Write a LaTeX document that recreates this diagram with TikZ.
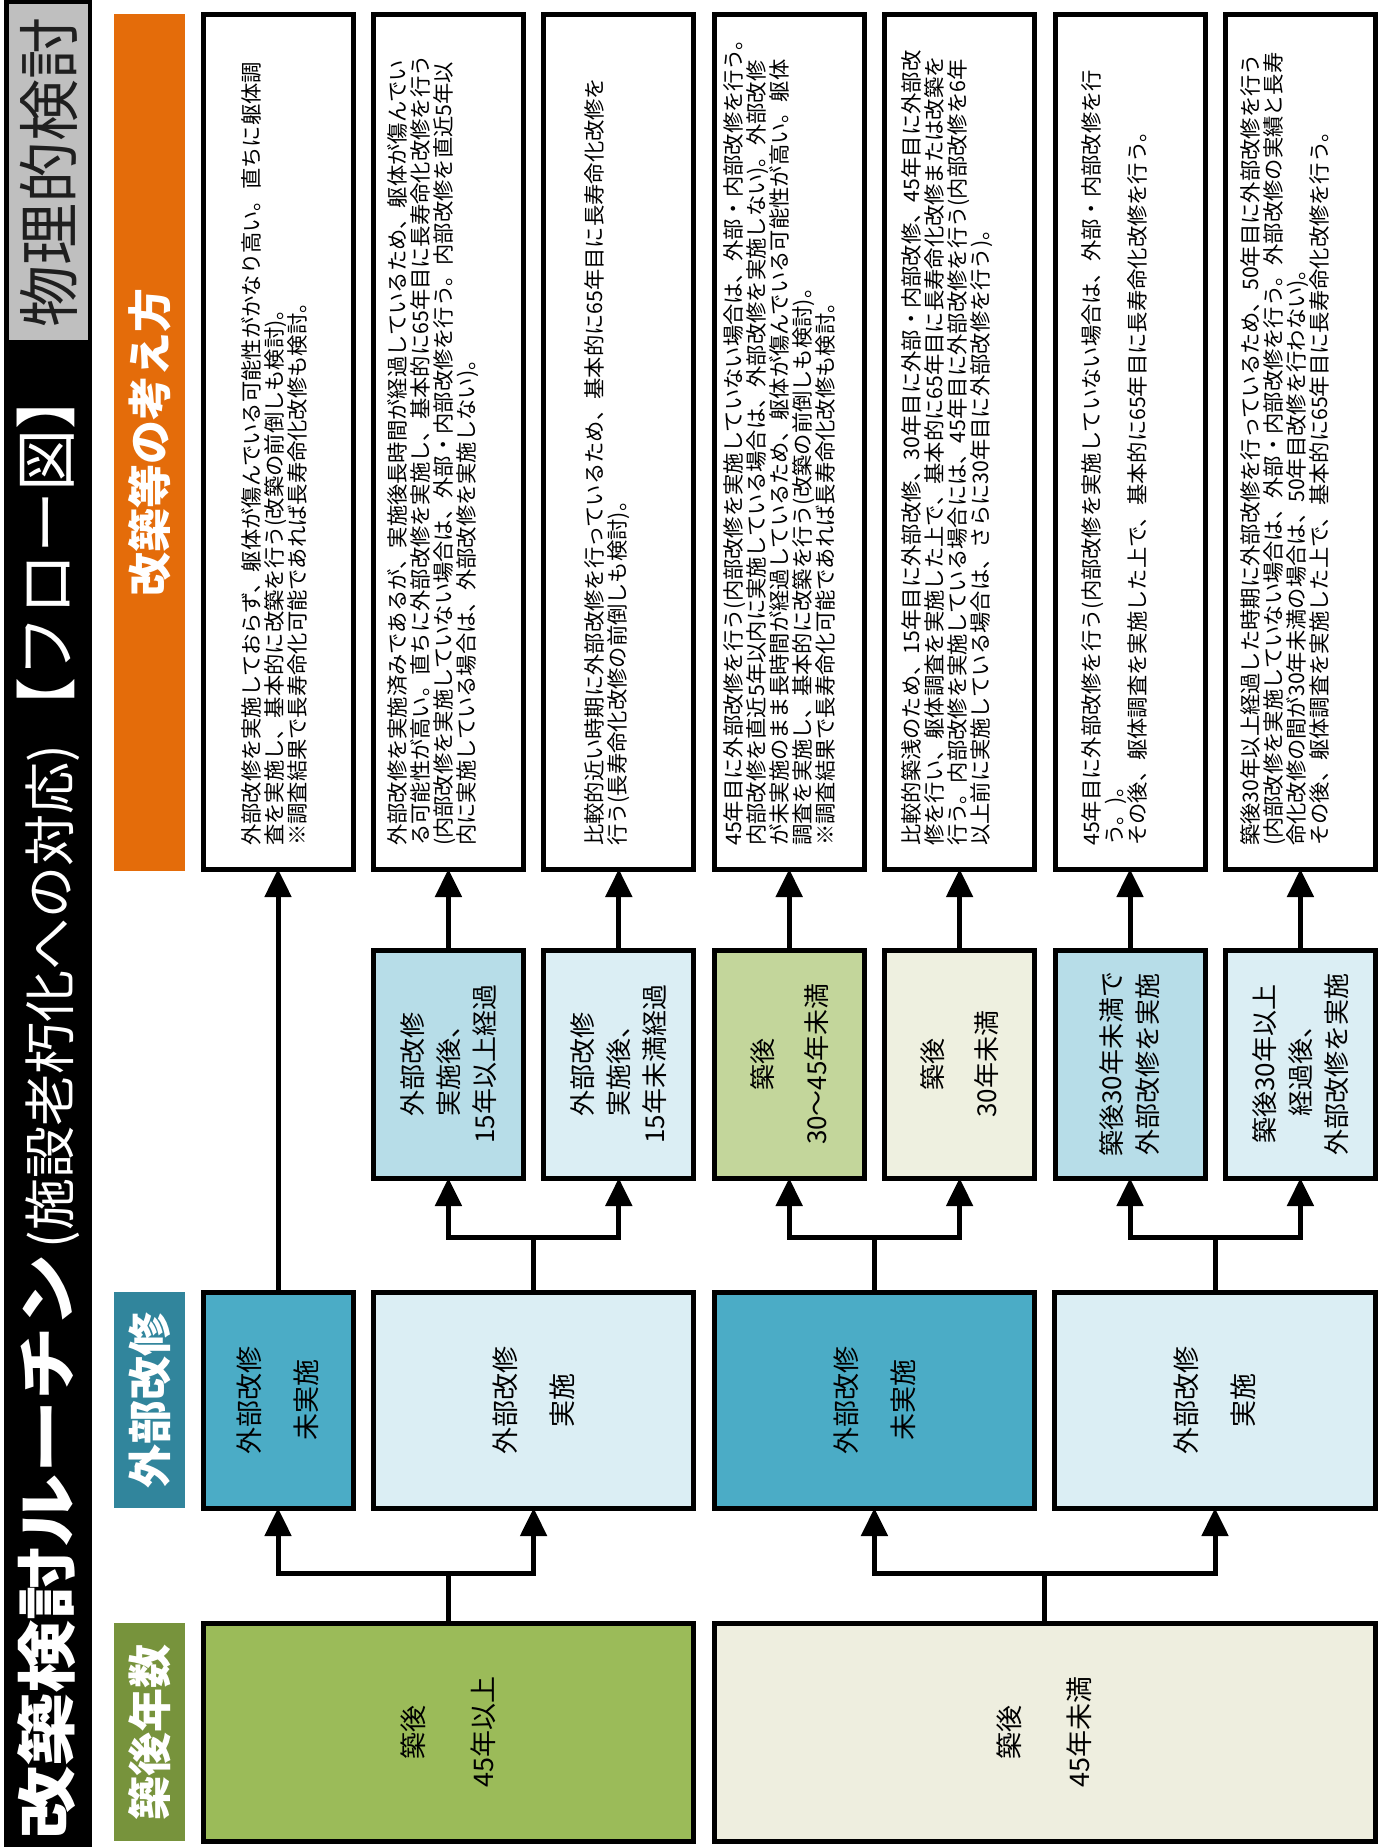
\documentclass[tikz,border=0pt]{standalone}
\usepackage{fontspec}
\usepackage{graphicx}
\setmainfont{Noto Sans CJK JP}
\usetikzlibrary{arrows.meta}
\definecolor{oliveH}{HTML}{77933C}
\definecolor{blueH}{HTML}{31859C}
\definecolor{orangeH}{HTML}{E46C0A}
\definecolor{grayT}{HTML}{BFBFBF}
\definecolor{greenA}{HTML}{9BBB59}
\definecolor{beigeA}{HTML}{EEEEDF}
\definecolor{blueA}{HTML}{4BACC6}
\definecolor{blueL}{HTML}{DBEEF4}
\definecolor{blueM}{HTML}{B7DDE8}
\definecolor{greenB}{HTML}{C3D69B}
\definecolor{beigeB}{HTML}{EEF0E0}
\tikzset{
  bx/.style={draw=black, line width=5pt, rotate=90, inner sep=0pt, outer sep=0pt, align=center},
  hdr/.style={rotate=90, inner sep=0pt, outer sep=0pt, text=white, align=center, font=\bfseries\fontsize{44}{50}\selectfont},
  ln/.style={line width=5pt},
  arr/.style={line width=5pt, -{Triangle[length=28pt,width=26pt]}},
  arrtwo/.style={line width=5pt, line join=miter, {Triangle[length=28pt,width=26pt]}-{Triangle[length=28pt,width=26pt]}},
  body/.style={rotate=90, inner sep=0pt, align=left, anchor=west, font=\fontsize{21.3}{23}\selectfont},
  cthree/.style={bx, minimum width=228pt, minimum height=150pt, font=\fontsize{26}{36}\selectfont},
  ctwo/.style={bx, minimum width=216pt, font=\fontsize{27}{57}\selectfont},
  cone/.style={bx, minimum width=218pt, font=\fontsize{27}{70}\selectfont},
  tbox/.style={bx, fill=white, minimum width=855pt, minimum height=150pt},
}
\begin{document}
\begin{tikzpicture}[x=1pt,y=-1pt]
\useasboundingbox (0,0) rectangle (1390,1847);
\fill[white] (0,0) rectangle (1390,1847);
% title bar
\fill[black] (4,0) rectangle (92,1847);
\fill[grayT] (9,4) rectangle (88,340);
\node[rotate=90, inner sep=0pt, text=black!88, font=\fontsize{62}{66}\selectfont] (phys) at (48.5,172) {物理的検討};
\node[rotate=90, inner sep=0pt, anchor=west, text=white] (title) at (48,1840) {\scalebox{1.22}[1]{\bfseries\fontsize{60}{64}\selectfont 改築検討ルーチン}\hspace{6pt}{\fontsize{52}{60}\selectfont (施設老朽化への対応)}\hspace{6pt}{\fontsize{62}{66}\selectfont 【フロー図】}};
% headers
\node[hdr, fill=orangeH, minimum width=857pt, minimum height=71pt] (h3) at (149.5,442.5) {改築等の考え方};
\node[hdr, fill=blueH, minimum width=216pt, minimum height=71pt] (h2) at (149.5,1400) {外部改修};
\node[hdr, fill=oliveH, minimum width=218pt, minimum height=71pt] (h1) at (149.5,1732) {築後年数};
% column 1
\node[cone, fill=greenA, minimum height=490.8pt] (g1) at (448.4,1732) {築後\\45年以上};
\node[cone, fill=beigeA, minimum height=660.8pt] (g2) at (1044.6,1732) {築後\\45年未満};
% column 2
\node[ctwo, fill=blueA, minimum height=150pt] (e1) at (278,1400) {外部改修\\未実施};
\node[ctwo, fill=blueL, minimum height=320.4pt] (e2) at (533.6,1400) {外部改修\\実施};
\node[ctwo, fill=blueA, minimum height=320.4pt] (e3) at (874.4,1400) {外部改修\\未実施};
\node[ctwo, fill=blueL, minimum height=320.4pt] (e4) at (1215,1400) {外部改修\\実施};
% column 3
\node[cthree, fill=blueM] (k2) at (448.4,1064) {外部改修\\実施後、\\15年以上経過};
\node[cthree, fill=blueL] (k3) at (618.8,1064) {外部改修\\実施後、\\15年未満経過};
\node[cthree, fill=greenB, font=\fontsize{26}{54}\selectfont] (k4) at (789.2,1064) {築後\\30～45年未満};
\node[cthree, fill=beigeB, font=\fontsize{26}{54}\selectfont] (k5) at (959.6,1064) {築後\\30年未満};
\node[cthree, fill=blueM] (k6) at (1130,1064) {築後30年未満で\\外部改修を実施};
\node[cthree, fill=blueL] (k7) at (1300.4,1064) {築後30年以上\\経過後、\\外部改修を実施};
% column 4 frames
\node[tbox] (t1) at (278,441.5) {};
\node[tbox] (t2) at (448.4,441.5) {};
\node[tbox] (t3) at (618.8,441.5) {};
\node[tbox] (t4) at (789.2,441.5) {};
\node[tbox] (t5) at (959.6,441.5) {};
\node[tbox] (t6) at (1130,441.5) {};
\node[tbox] (t7) at (1300.4,441.5) {};
% column 4 texts
\node[body] (x1) at (274,846) {外部改修を実施しておらず、躯体が傷んでいる可能性がかなり高い。直ちに躯体調\\査を実施し、基本的に改築を行う(改築の前倒しも検討)。\\※調査結果で長寿命化可能であれば長寿命化改修も検討。};
\node[body] (x2) at (433.4,846) {外部改修を実施済みであるが、実施後長時間が経過しているため、躯体が傷んでい\\る可能性が高い。直ちに外部改修を実施し、基本的に65年目に長寿命化改修を行う\\(内部改修を実施していない場合は、外部・内部改修を行う。内部改修を直近5年以\\内に実施している場合は、外部改修を実施しない)。};
\node[body] (x3) at (606.8,846) {比較的近い時期に外部改修を行っているため、基本的に65年目に長寿命化改修を\\行う(長寿命化改修の前倒しも検討)。};
\node[body] (x4) at (779.2,846) {45年目に外部改修を行う(内部改修を実施していない場合は、外部・内部改修を行う。\\内部改修を直近5年以内に実施している場合は、外部改修を実施しない)。外部改修\\が未実施のまま長時間が経過しているため、躯体が傷んでいる可能性が高い。躯体\\調査を実施し、基本的に改築を行う(改築の前倒しも検討)。\\※調査結果で長寿命化可能であれば長寿命化改修も検討。};
\node[body] (x5) at (946.6,846) {比較的築浅のため、15年目に外部改修、30年目に外部・内部改修、45年目に外部改\\修を行い、躯体調査を実施した上で、基本的に65年目に長寿命化改修または改築を\\行う。内部改修を実施している場合には、45年目に外部改修を行う(内部改修を6年\\以上前に実施している場合は、さらに30年目に外部改修を行う)。};
\node[body] (x6) at (1114,846) {45年目に外部改修を行う(内部改修を実施していない場合は、外部・内部改修を行\\う。)。\\その後、躯体調査を実施した上で、基本的に65年目に長寿命化改修を行う。};
\node[body] (x7) at (1284.4,846) {築後30年以上経過した時期に外部改修を行っているため、50年目に外部改修を行う\\(内部改修を実施していない場合は、外部・内部改修を行う。外部改修の実績と長寿\\命化改修の間が30年未満の場合は、50年目改修を行わない)。\\その後、躯体調査を実施した上で、基本的に65年目に長寿命化改修を行う。};
% connectors col1 -> col2
\draw[ln] (g1.east) -- ++(0,-50) coordinate (j1);
\draw[arrtwo] (e1.west) -- (e1.west |- j1) -- (e2.west |- j1) -- (e2.west);
\draw[ln] (g2.east) -- ++(0,-50) coordinate (j2);
\draw[arrtwo] (e3.west) -- (e3.west |- j2) -- (e4.west |- j2) -- (e4.west);
% col2 -> col3
\draw[ln] (e2.east) -- ++(0,-55) coordinate (j3);
\draw[arrtwo] (k2.west) -- (k2.west |- j3) -- (k3.west |- j3) -- (k3.west);
\draw[ln] (e3.east) -- ++(0,-55) coordinate (j4);
\draw[arrtwo] (k4.west) -- (k4.west |- j4) -- (k5.west |- j4) -- (k5.west);
\draw[ln] (e4.east) -- ++(0,-55) coordinate (j5);
\draw[arrtwo] (k6.west) -- (k6.west |- j5) -- (k7.west |- j5) -- (k7.west);
% to text boxes
\draw[arr] (e1.east) -- (t1.west);
\draw[arr] (k2.east) -- (t2.west);
\draw[arr] (k3.east) -- (t3.west);
\draw[arr] (k4.east) -- (t4.west);
\draw[arr] (k5.east) -- (t5.west);
\draw[arr] (k6.east) -- (t6.west);
\draw[arr] (k7.east) -- (t7.west);
\end{tikzpicture}
\end{document}
